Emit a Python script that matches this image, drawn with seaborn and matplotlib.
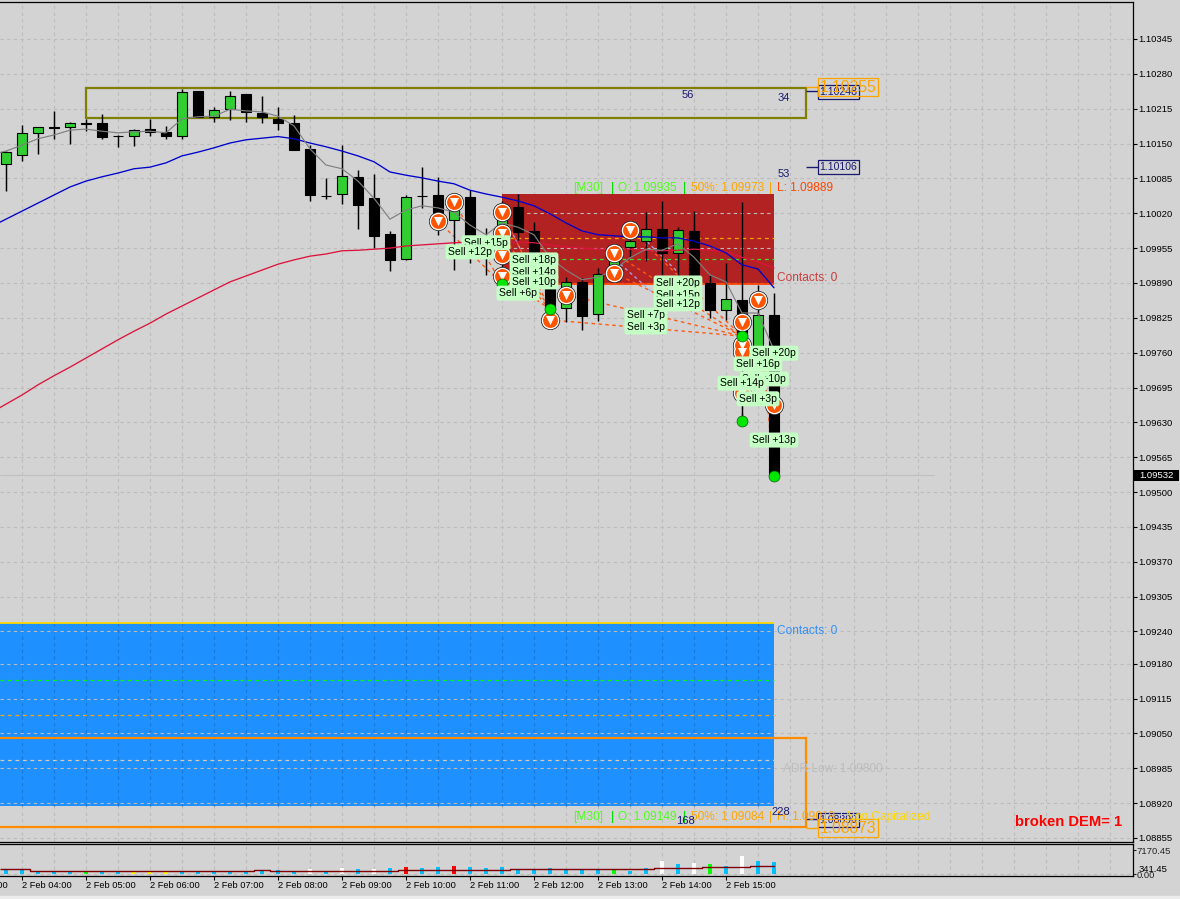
import matplotlib
matplotlib.use("Agg")
import matplotlib.pyplot as plt
from matplotlib.patches import Rectangle
import seaborn as sns

# M15 candles, index 0..48
opens = [1.10112, 1.10129, 1.10170, 1.10181, 1.10181, 1.10188, 1.10188, 1.10165, 1.10164, 1.10177,
         1.10172, 1.10164, 1.10248, 1.10200, 1.10214, 1.10242, 1.10207, 1.10196, 1.10188, 1.10140,
         1.10053, 1.10056, 1.10088, 1.10048, 1.09981, 1.09935, 1.10053, 1.10054, 1.10007, 1.10050,
         1.09976, 1.09937, 1.10032, 1.09987, 1.09890, 1.09843, 1.09892, 1.09832, 1.09914, 1.09957,
         1.09968, 1.09991, 1.09946, 1.09987, 1.09890, 1.09840, 1.09858, 1.09771, 1.09830]
highs = [1.10136, 1.10185, 1.10181, 1.10211, 1.10190, 1.10196, 1.10205, 1.10166, 1.10177, 1.10196,
         1.10183, 1.10252, 1.10248, 1.10218, 1.10248, 1.10242, 1.10239, 1.10218, 1.10203, 1.10147,
         1.10086, 1.10147, 1.10101, 1.10093, 1.09987, 1.10054, 1.10106, 1.10088, 1.10054, 1.10063,
         1.09993, 1.10043, 1.10056, 1.10004, 1.09948, 1.09901, 1.09899, 1.09918, 1.09951, 1.10002,
         1.10022, 1.10043, 1.09994, 1.10024, 1.09905, 1.09927, 1.10041, 1.09886, 1.09871]
lows = [1.10062, 1.10118, 1.10131, 1.10159, 1.10149, 1.10173, 1.10159, 1.10144, 1.10145, 1.10164,
        1.10159, 1.10159, 1.10200, 1.10190, 1.10194, 1.10190, 1.10188, 1.10175, 1.10138, 1.10043,
        1.10047, 1.10037, 1.09991, 1.09955, 1.09912, 1.09933, 1.10030, 1.09980, 1.09914, 1.09927,
        1.09905, 1.09877, 1.09970, 1.09877, 1.09821, 1.09817, 1.09802, 1.09819, 1.09896, 1.09938,
        1.09931, 1.09905, 1.09896, 1.09886, 1.09825, 1.09821, 1.09629, 1.09765, 1.09532]
closes = [1.10134, 1.10170, 1.10181, 1.10179, 1.10188, 1.10187, 1.10162, 1.10164, 1.10175, 1.10172,
          1.10164, 1.10246, 1.10200, 1.10213, 1.10239, 1.10209, 1.10200, 1.10188, 1.10138, 1.10054,
          1.10052, 1.10089, 1.10035, 1.09978, 1.09933, 1.10050, 1.10052, 1.10021, 1.10032, 1.09978,
          1.09957, 1.10035, 1.09985, 1.09890, 1.09840, 1.09892, 1.09828, 1.09907, 1.09937, 1.09968,
          1.09991, 1.09946, 1.09989, 1.09901, 1.09840, 1.09860, 1.09774, 1.09830, 1.09532]

# moving averages, index -1..48
ma_blue = [1.09994, 1.10009, 1.10024, 1.10039, 1.10054, 1.10069, 1.10080, 1.10088, 1.10095, 1.10103,
           1.10106, 1.10114, 1.10127, 1.10134, 1.10142, 1.10151, 1.10157, 1.10160, 1.10163, 1.10159,
           1.10151, 1.10144, 1.10136, 1.10127, 1.10116, 1.10097, 1.10091, 1.10086, 1.10080, 1.10075,
           1.10063, 1.10056, 1.10050, 1.10043, 1.10034, 1.10019, 1.10002, 1.09987, 1.09980, 1.09978,
           1.09976, 1.09976, 1.09974, 1.09974, 1.09968, 1.09959, 1.09946, 1.09924, 1.09916, 1.09881]
ma_red = [1.09647, 1.09664, 1.09681, 1.09700, 1.09717, 1.09733, 1.09750, 1.09767, 1.09784, 1.09800,
          1.09815, 1.09832, 1.09847, 1.09862, 1.09877, 1.09892, 1.09903, 1.09914, 1.09925, 1.09933,
          1.09940, 1.09944, 1.09950, 1.09951, 1.09953, 1.09955, 1.09959, 1.09961, 1.09963, 1.09965,
          1.09966, 1.09968, 1.09968, 1.09966, 1.09965, 1.09961, 1.09957, 1.09955, 1.09953, 1.09953,
          1.09953, 1.09951, 1.09950, 1.09951, 1.09953, 1.09951, 1.09948, 1.09938, 1.09929, 1.09918]
ma_gray = [1.10129, 1.10136, 1.10147, 1.10159, 1.10166, 1.10175, 1.10177, 1.10173, 1.10170, 1.10172,
           1.10173, 1.10170, 1.10196, 1.10200, 1.10201, 1.10214, 1.10211, 1.10209, 1.10201, 1.10183,
           1.10140, 1.10110, 1.10103, 1.10080, 1.10048, 1.10009, 1.10026, 1.10034, 1.10030, 1.10022,
           1.09998, 1.09980, 1.10002, 1.09994, 1.09980, 1.09937, 1.09914, 1.09896, 1.09901, 1.09914,
           1.09937, 1.09953, 1.09951, 1.09963, 1.09938, 1.09905, 1.09892, 1.09834, 1.09834, 1.09765]

volumes = [1300, 1300, 900, 900, 900, 900, 900, 600, 700, 700, 700, 900, 600, 900, 900, 700, 900, 1200,
           700, 1500, 700, 1800, 1500, 1500, 1800, 2100, 1800, 2100, 2400, 2100, 1800, 2100, 1200, 1300,
           1800, 1300, 1300, 1300, 1300, 900, 1800, 3900, 3000, 3300, 3000, 2400, 5400, 3900, 3600]
volume_colors = (["#00bfff"] * 5 + ["#00ff00"] + ["#00bfff"] * 2 + ["#ffff00"] * 3 + ["#00bfff"] * 8
                 + ["white", "#00bfff", "white", "#00bfff", "white", "#00bfff", "#ff0000", "#00bfff",
                    "#00bfff", "#ff0000"] + ["#00bfff"] * 9 + ["#00ff00", "#00bfff", "#00bfff", "white",
                    "#00bfff", "white", "#00ff00", "#00bfff", "white", "#00bfff", "#00bfff"])
volume_ma = [1400, 1400] + [1000] * 13 + [800, 1100] + [800] * 8 + [1100] * 7 + [1400] * 9 + [1700] * 3 + [2000] * 3 + [2300] * 2

price_ticks = [1.10345, 1.10280, 1.10215, 1.10150, 1.10085, 1.10020, 1.09955, 1.09890, 1.09825, 1.09760,
               1.09695, 1.09630, 1.09565, 1.09500, 1.09435, 1.09370, 1.09305, 1.09240, 1.09180, 1.09115,
               1.09050, 1.08985, 1.08920, 1.08855]
hour_ticks = list(range(1, 46, 4))
hour_labels = ["2 Feb %02d:00" % h for h in range(4, 16)]

sell_x = [27, 28, 31, 31, 31, 31, 34, 35, 38, 38, 39, 46, 46, 46, 46, 47, 48]
sell_y = [1.10006, 1.10041, 1.10022, 1.09983, 1.09942, 1.09903, 1.09821, 1.09868, 1.09946, 1.09909,
          1.09989, 1.09817, 1.09774, 1.09761, 1.09685, 1.09858, 1.09662]
close_x = [31, 34, 46, 46, 48]
close_y = [1.09888, 1.09841, 1.09791, 1.09633, 1.09530]

# (entry bar, entry price, exit bar, exit price)
trades = [(27, 1.10006, 31, 1.09888), (28, 1.10041, 31, 1.09888), (31, 1.10022, 34, 1.09841),
          (31, 1.09983, 34, 1.09841), (31, 1.09942, 34, 1.09841), (31, 1.09903, 34, 1.09841),
          (34, 1.09821, 46, 1.09791), (35, 1.09868, 46, 1.09791), (38, 1.09946, 46, 1.09791),
          (38, 1.09909, 46, 1.09791), (39, 1.09989, 46, 1.09791), (46, 1.09817, 46, 1.09633),
          (47, 1.09858, 48, 1.09530)]
faint_trades = [(39.8, 1.09975, 41.9, 1.09913), (38.4, 1.09925, 40.5, 1.09870), (31.7, 1.09980, 32.2, 1.09950)]

sell_labels = ["Sell +15p", "Sell +12p", "Sell +18p", "Sell +14p", "Sell +10p", "Sell +6p", "Sell +20p",
               "Sell +15p", "Sell +12p", "Sell +7p", "Sell +3p", "Sell +10p", "Sell +3p", "Sell +14p",
               "Sell +20p", "Sell +16p", "Sell +13p"]
sell_label_x = [30, 29, 33, 33, 33, 32, 42, 42, 42, 40, 40, 47.4, 47, 46, 48, 47, 48]
sell_label_y = [1.09965, 1.09948, 1.09933, 1.09910, 1.09892, 1.09871, 1.09890, 1.09868, 1.09851, 1.09830,
                1.09808, 1.09711, 1.09674, 1.09703, 1.09759, 1.09739, 1.09597]

BG = "#d3d3d3"
GRID = "#bcbcbc"
NAVY = "#191970"
W, H = 1180, 899


def px_x(x):
    return x / W


def px_y(y):
    return 1 - y / H


def header(y, parts):
    # one status line, pieces are (x pixel, text, colour)
    for x, txt, col in parts:
        fig.text(px_x(x), px_y(y + 1), txt, color=col, fontsize=8.6, va="center", ha="left", zorder=20)


sns.set_theme(style="ticks", rc={"axes.facecolor": BG, "figure.facecolor": BG, "axes.linewidth": 0.9,
                                 "axes.edgecolor": "black"})
plt.rcParams["font.family"] = ["Liberation Sans", "DejaVu Sans"]

fig = plt.figure(figsize=(W / 100, H / 100), dpi=100)
fig.patches.append(Rectangle((0, 0), 1, 3 / H, transform=fig.transFigure, color="#ececec", zorder=-1))
ax = fig.add_axes([0, px_y(842), 1133 / W, 840 / H])
vol = fig.add_axes([0, px_y(876), 1133 / W, 32 / H])

xmin, xmax = -0.375, 70.44
ax.set_xlim(xmin, xmax)
ax.set_ylim(1.088474, 1.104140)
vol.set_xlim(xmin, xmax)
vol.set_ylim(-600, 9000)

grid_x = [i for i in range(1, 71, 2)]
dash = (0, (3, 3))
for a in (ax, vol):
    a.set_axisbelow(True)
    a.grid(False)
    a.vlines(grid_x, *a.get_ylim(), color=GRID, lw=0.8, ls=dash, zorder=0.5)
    a.spines["left"].set_visible(False)
    a.yaxis.tick_right()
ax.hlines(price_ticks, xmin, xmax, color=GRID, lw=0.8, ls=dash, zorder=1.5)
vol.hlines([0], xmin, xmax, color=GRID, lw=0.8, ls=dash, zorder=0.5)

# demand / supply zones
ax.add_patch(Rectangle((31, 1.09889), 17, 1.10056 - 1.09889, color="#b22222", lw=0, zorder=1))
ax.add_patch(Rectangle((xmin, 1.08915), 48 - xmin, 1.09256 - 1.08915, color="#1e90ff", lw=0, zorder=1))
ax.vlines([g for g in grid_x if g < 48], 1.08915, 1.09256, color="#1878d8", lw=0.8, ls=dash, zorder=1.2)
ax.hlines(1.09256, xmin, 48, color="#ffd700", lw=1.3, zorder=1.6)
ax.hlines(1.09889, 31, 48, color="#ff4500", lw=1.3, zorder=1.6)
ax.hlines(1.09973, 31, 48, color="#ffa500", lw=0.9, ls=dash, zorder=1.6)
ax.hlines(1.09935, 31, 48, color="#32e632", lw=0.9, ls=dash, zorder=1.6)
ax.hlines(1.09084, xmin, 48, color="#ffa500", lw=0.9, ls=dash, zorder=1.6)
ax.hlines(1.09149, xmin, 48, color="#00ff00", lw=0.9, ls=dash, zorder=1.6)
ax.hlines(1.09000, xmin, 48, color="#d8cdb4", lw=0.9, ls=dash, zorder=1.6)

# bid line
ax.hlines(1.09532, xmin, 58, color="#c0c0c0", lw=0.8, zorder=1.5)

# frames
ax.plot([5, 5, 50, 50, 5], [1.10198, 1.10254, 1.10254, 1.10198, 1.10198], color="#808000", lw=1.6, zorder=2,
        solid_joinstyle="miter")
ax.plot([xmin, 50, 50, xmin], [1.09041, 1.09041, 1.08875, 1.08875], color="#ff8c00", lw=1.6, zorder=2,
        solid_joinstyle="miter")

# trade lines run under the candles
for x0, y0, x1, y1 in trades:
    ax.plot([x0, x1], [y0, y1], color="#ff5a10", lw=1.0, ls=(0, (2.5, 2.5)), zorder=2.5)
for x0, y0, x1, y1 in faint_trades:
    ax.plot([x0, x1], [y0, y1], color="#a8a8f0", lw=0.9, ls=(0, (2.5, 2.5)), zorder=2.5)

# candles
idx = list(range(len(opens)))
ax.vlines(idx, lows, highs, color="black", lw=1.05, zorder=3)
bottoms = [min(o, c) for o, c in zip(opens, closes)]
heights = [abs(c - o) for o, c in zip(opens, closes)]
colors = ["#32cd32" if c > o else "black" for o, c in zip(opens, closes)]
ax.bar(idx, heights, width=0.62, bottom=bottoms, color=colors, edgecolor="black", linewidth=0.8, zorder=3.1)

# moving averages
ma_idx = list(range(-1, 49))
sns.lineplot(x=ma_idx, y=ma_red, color="#dc143c", lw=0.95, ax=ax, zorder=3.3, errorbar=None)
sns.lineplot(x=ma_idx, y=ma_blue, color="#0000cd", lw=0.95, ax=ax, zorder=3.3, errorbar=None)
sns.lineplot(x=ma_idx, y=ma_gray, color="#808080", lw=0.85, ax=ax, zorder=3.4, errorbar=None)

# arrows
sns.scatterplot(x=sell_x, y=sell_y, s=190, color="#202020", linewidth=0, ax=ax, zorder=4)
sns.scatterplot(x=sell_x, y=sell_y, s=160, color="white", linewidth=0, ax=ax, zorder=4.1)
sns.scatterplot(x=sell_x, y=sell_y, s=115, color="#ff5500", linewidth=0, ax=ax, zorder=4.2)
sns.scatterplot(x=sell_x, y=sell_y, s=42, marker="v", color="white", linewidth=0, ax=ax, zorder=4.3)
sns.scatterplot(x=close_x, y=close_y, s=62, color="#00e600", edgecolor="#006400", linewidth=0.5, ax=ax, zorder=4.4)

for i, (txt, x, y) in enumerate(zip(sell_labels, sell_label_x, sell_label_y)):
    ax.text(x, y, txt, fontsize=7.5, color="black", ha="center", va="center", zorder=5 + i * 0.01,
            bbox=dict(boxstyle="round,pad=0.24", fc="#c4ffc4", ec="none"))

# price tags on the right of the frames
for price, tag_y in [(1.10106, 1.10106), (1.10248, 1.10246), (1.08890, 1.08888)]:
    ax.hlines(price, 50, 50.75, color=NAVY, lw=1.0, zorder=2)
    ax.text(50.85, tag_y, "%.5f" % price, fontsize=7.6, color=NAVY, ha="left", va="center", zorder=6,
            bbox=dict(boxstyle="square,pad=0.18", fc="none", ec=NAVY, lw=0.9))
for price in [1.10255, 1.08873]:
    ax.hlines(price, 50, 50.75, color="#ffa500", lw=1.0, zorder=2)
    ax.text(50.85, price, "%.5f" % price, fontsize=11.3, color="#ffa500", ha="left", va="center", zorder=6,
            bbox=dict(boxstyle="square,pad=0.1", fc="none", ec="#ffa500", lw=0.9))

# status lines and loose text
GREEN = "#4cff1a"
header(187, [(573, "[M30]", GREEN), (611, "|", "#00e000"), (618, "O: 1.09935", GREEN), (683, "|", "#00e000"),
             (691, "50%: 1.09973", "#ffa500"), (769, "|", "#ffa500"), (777, "L: 1.09889", "#ff4500")])
header(816, [(573, "[M30]", GREEN), (611, "|", "#00e000"), (618, "O: 1.09149", GREEN), (683, "|", "#00e000"),
             (691, "50%: 1.09084", "#ffa500"), (769, "|", "#ffa500"), (777, "H: 1.09019", "#ffa500"),
             (840, "| Non Capitalized", "#ffd700")])
header(277, [(777, "Contacts: 0", "#cd3c3c")])
header(630, [(777, "Contacts: 0", "#2f8fff")])
header(768, [(783, "ADR Low: 1.09800", "#bdbdbd")])
for x, y, txt in [(688, 95, "56"), (784, 98, "34"), (784, 174, "53"), (781, 812, "228"), (685, 821, "168")]:
    fig.text(px_x(x), px_y(y), txt, fontsize=8, color=NAVY, ha="center", va="center", zorder=20)
fig.text(px_x(1015), px_y(822), "broken DEM= 1", fontsize=10.6, fontweight="bold", color="#ff0000",
         ha="left", va="center", zorder=20)

# price axis
ax.set_yticks(price_ticks)
ax.set_yticklabels(["%.5f" % p for p in price_ticks])
ax.tick_params(axis="y", length=3, width=0.8, pad=0.9, labelsize=6.8, colors="black", right=True, left=False)
ax.set_xticks([])
ax.set_ylabel("")
fig.patches.append(Rectangle((px_x(1134), px_y(481)), 45 / W, 11 / H, transform=fig.transFigure, color="black",
                             lw=0, zorder=10))
fig.text(px_x(1139), px_y(476), "1.09532", fontsize=6.8, color="white", ha="left", va="center", zorder=20)

# volume panel
vol.bar(idx, volumes, width=0.22, color=volume_colors, linewidth=0, zorder=2)
sns.lineplot(x=idx, y=volume_ma, color="#800000", lw=1.0, ax=vol, drawstyle="steps-mid", zorder=3, errorbar=None)
vol.hlines(volume_ma[0], xmin, 0, color="#800000", lw=1.0, zorder=3)
vol.set_yticks([0, 7170.45])
vol.set_yticklabels(["0.00", "7170.45"])
vol.tick_params(axis="y", length=2, width=0.8, pad=0.8, labelsize=6.8, right=True, left=False)
vol.text(xmax + 0.38, 1500, "341.45", fontsize=6.8, color="black", ha="left", va="center", clip_on=False)
vol.set_xticks(hour_ticks)
vol.set_xticklabels(hour_labels, ha="left")
vol.tick_params(axis="x", length=3, width=0.8, pad=0.8, labelsize=6.7, colors="black")
vol.text(-3, -0.16, "2 Feb 03:00", fontsize=6.7, color="black", ha="left", va="top", clip_on=False,
         transform=vol.get_xaxis_transform())

fig.savefig("out.png", dpi=100, facecolor=BG)
